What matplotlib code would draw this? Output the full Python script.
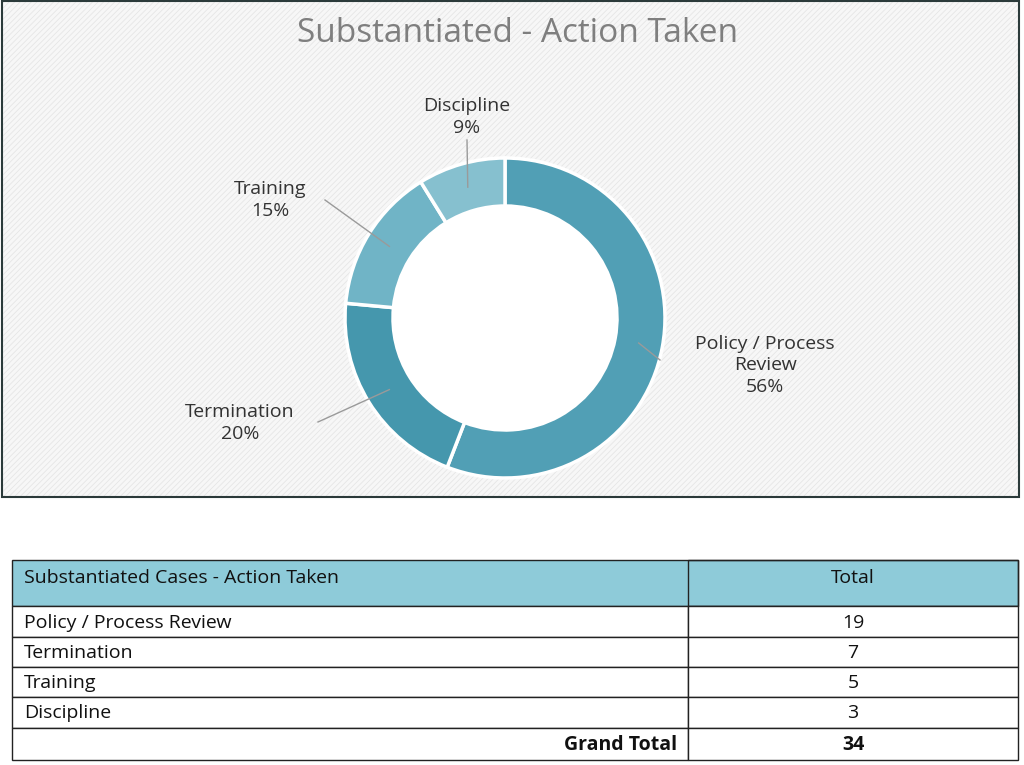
import numpy as np
import matplotlib
matplotlib.use("Agg")
import matplotlib.pyplot as plt
from matplotlib.patches import Rectangle, Circle

categories = ["Policy / Process Review", "Termination", "Training", "Discipline"]
pie_labels = ["Policy / Process\nReview", "Termination", "Training", "Discipline"]
values = [19, 7, 5, 3]
colors = ["#519fb5", "#4597ad", "#70b4c6", "#86c0cf"]
title = "Substantiated - Action Taken"
table_header = ["Substantiated Cases - Action Taken", "Total"]

plt.rcParams["font.family"] = "Open Sans"
plt.rcParams["hatch.color"] = "#e6e6e6"
plt.rcParams["hatch.linewidth"] = 0.6
fig = plt.figure(figsize=(10.24, 7.65), dpi=100)
ax = fig.add_axes([0, 0, 1, 1])

total = sum(values)
# percentages rounded to sum 100 (largest remainder)
raw = [100 * v / total for v in values]
pcts = [int(np.floor(r)) for r in raw]
order = sorted(range(len(raw)), key=lambda i: raw[i] - pcts[i], reverse=True)
for i in order[:100 - sum(pcts)]:
    pcts[i] += 1

# panel
ax.add_patch(Rectangle((2, 1), 1017, 496, facecolor="#f7f7f7", edgecolor="#e6e6e6", lw=0,
                       hatch="//////", zorder=0))
ax.add_patch(Rectangle((2, 1), 1017, 496, facecolor="none", edgecolor="#2b3a3a", lw=1.5, zorder=1))

cx, cy, R = 505, 318, 160
wedges, _ = ax.pie(values, colors=colors, startangle=-90, counterclock=True, center=(cx, cy),
                   radius=R, wedgeprops=dict(width=48, edgecolor="white", linewidth=2.5), frame=True)
ax.add_patch(Circle((cx, cy), R - 48, facecolor="white", edgecolor="none", zorder=0.5))
ax.set_xlim(0, 1024); ax.set_ylim(765, 0); ax.set_aspect("equal"); ax.axis("off")
ax.text(518, 33, title, ha="center", va="center", fontsize=24, color="#7f7f7f")

label_pos = [(765, 365), (240, 423), (270, 200), (467, 117)]
line_end = [(660, 360), (318, 422), (325, 200), (467, 140)]
for w, p, lab, lp, le in zip(wedges, pcts, pie_labels, label_pos, line_end):
    a = np.deg2rad((w.theta1 + w.theta2) / 2)
    r = R - 24
    px, py = cx + r * np.cos(a), cy + r * np.sin(a)
    ax.plot([px, le[0]], [py, le[1]], color="#9a9a9a", lw=1, zorder=5)
    ax.text(lp[0], lp[1], f"{lab}\n{p}%", ha="center", va="center",
            fontsize=14, color="#333333", linespacing=1.25, zorder=6)

# table
x0, xm, x1 = 12, 688, 1018
ax.add_patch(Rectangle((x0, 560), x1 - x0, 46, facecolor="#8ecbd9", edgecolor="#222", lw=1))
ax.add_patch(Rectangle((xm, 560), x1 - xm, 46, facecolor="none", edgecolor="#222", lw=1))
ax.text(24, 578, table_header[0], ha="left", va="center", fontsize=14, color="#111")
ax.text(853, 578, table_header[1], ha="center", va="center", fontsize=14, color="#111")
ys = [606, 637, 667, 697, 728, 760]
for i, (c, v) in enumerate(zip(categories, values)):
    ax.add_patch(Rectangle((x0, ys[i]), xm - x0, ys[i + 1] - ys[i], facecolor="white", edgecolor="#222", lw=1))
    ax.add_patch(Rectangle((xm, ys[i]), x1 - xm, ys[i + 1] - ys[i], facecolor="white", edgecolor="#222", lw=1))
    ym = (ys[i] + ys[i + 1]) / 2 + 1
    ax.text(24, ym, c, ha="left", va="center", fontsize=14, color="#111")
    ax.text(853, ym, str(v), ha="center", va="center", fontsize=14, color="#111")
ax.add_patch(Rectangle((x0, ys[4]), xm - x0, ys[5] - ys[4], facecolor="white", edgecolor="#222", lw=1))
ax.add_patch(Rectangle((xm, ys[4]), x1 - xm, ys[5] - ys[4], facecolor="white", edgecolor="#222", lw=1))
ym = (ys[4] + ys[5]) / 2 + 1
ax.text(677, ym, "Grand Total", ha="right", va="center", fontsize=14, color="#111", fontweight="bold")
ax.text(853, ym, str(total), ha="center", va="center", fontsize=14, color="#111", fontweight="bold")

fig.savefig("out.png", dpi=100)
